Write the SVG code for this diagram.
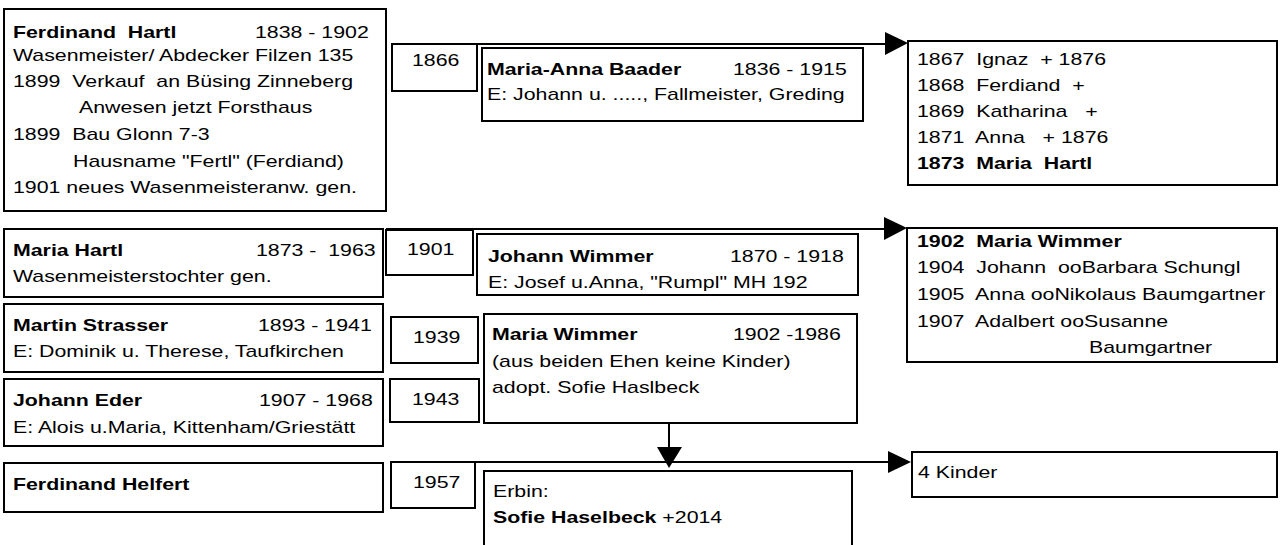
<svg xmlns="http://www.w3.org/2000/svg" width="1281" height="545" viewBox="0 0 1281 545">
<style>
.b{fill:#fff;stroke:#000;stroke-width:2}
.c{fill:none;stroke:#000;stroke-width:2}
.h{fill:#000;stroke:none}
text{font-family:"Liberation Sans",Arial,sans-serif;font-size:17px;fill:#000;white-space:pre}
.bd{font-weight:bold}
</style>
<rect width="1281" height="545" fill="#fff"/>
<g id="connectors">
<path class="c" d="M392 44H890"/><path class="h" d="M908 43L885 32V55Z"/>
<path class="c" d="M386 229H890"/><path class="h" d="M907 228L884 217V240Z"/>
<path class="c" d="M391 462H892"/><path class="h" d="M911 462L888 451V473Z"/>
<path class="c" d="M669 423V450"/><path class="h" d="M669 468L657 447H682Z"/>
</g>
<g id="n1"><rect class="b" x="4" y="9" width="382" height="202"/>
<text class="bd" transform="translate(13 37.5) scale(1.255 1)" xml:space="preserve">Ferdinand  Hartl</text>
<text transform="translate(255 37.5) scale(1.255 1)">1838 - 1902</text>
<text transform="translate(13 61) scale(1.255 1)">Wasenmeister/ Abdecker Filzen 135</text>
<text transform="translate(13 87) scale(1.255 1)" xml:space="preserve">1899  Verkauf  an Büsing Zinneberg</text>
<text transform="translate(79 113) scale(1.255 1)">Anwesen jetzt Forsthaus</text>
<text transform="translate(13 140) scale(1.255 1)" xml:space="preserve">1899  Bau Glonn 7-3</text>
<text transform="translate(73 166.5) scale(1.255 1)">Hausname "Fertl" (Ferdiand)</text>
<text transform="translate(13 193) scale(1.255 1)">1901 neues Wasenmeisteranw. gen.</text>
</g>
<g id="n2"><rect class="b" x="392" y="44" width="85" height="47"/>
<text transform="translate(412 66) scale(1.255 1)">1866</text></g>
<g id="n3"><rect class="b" x="482" y="48" width="381" height="73"/>
<text class="bd" transform="translate(487 75) scale(1.255 1)">Maria-Anna Baader</text>
<text transform="translate(733 75) scale(1.255 1)">1836 - 1915</text>
<text transform="translate(487 100) scale(1.255 1)">E: Johann u. ....., Fallmeister, Greding</text></g>
<g id="n4"><rect class="b" x="908" y="41" width="369" height="144"/>
<text transform="translate(917 65) scale(1.255 1)" xml:space="preserve">1867  Ignaz  + 1876</text>
<text transform="translate(917 91) scale(1.255 1)" xml:space="preserve">1868  Ferdiand  +</text>
<text transform="translate(917 117) scale(1.255 1)" xml:space="preserve">1869  Katharina   +</text>
<text transform="translate(917 143) scale(1.255 1)" xml:space="preserve">1871  Anna   + 1876</text>
<text class="bd" transform="translate(917 168.5) scale(1.255 1)" xml:space="preserve">1873  Maria  Hartl</text></g>
<g id="n5"><rect class="b" x="4" y="229" width="379" height="68"/>
<text class="bd" transform="translate(13 256) scale(1.255 1)">Maria Hartl</text>
<text transform="translate(256 256) scale(1.255 1)" xml:space="preserve">1873 -  1963</text>
<text transform="translate(13 282) scale(1.255 1)">Wasenmeisterstochter gen.</text></g>
<g id="n6"><rect class="b" x="386" y="230" width="87" height="45"/>
<text transform="translate(407 255) scale(1.255 1)">1901</text></g>
<g id="n7"><rect class="b" x="477" y="234" width="381" height="61"/>
<text class="bd" transform="translate(488 261.5) scale(1.255 1)">Johann Wimmer</text>
<text transform="translate(730 261.5) scale(1.255 1)">1870 - 1918</text>
<text transform="translate(488 288) scale(1.255 1)">E: Josef u.Anna, "Rumpl" MH 192</text></g>
<g id="n8"><rect class="b" x="907" y="228" width="370" height="134"/>
<text class="bd" transform="translate(917 246.5) scale(1.255 1)" xml:space="preserve">1902  Maria Wimmer</text>
<text transform="translate(917 273) scale(1.255 1)" xml:space="preserve">1904  Johann  ooBarbara Schungl</text>
<text transform="translate(917 300) scale(1.255 1)" xml:space="preserve">1905  Anna ooNikolaus Baumgartner</text>
<text transform="translate(917 326.5) scale(1.255 1)" xml:space="preserve">1907  Adalbert ooSusanne</text>
<text transform="translate(1089 353) scale(1.255 1)">Baumgartner</text></g>
<g id="n9"><rect class="b" x="4" y="304" width="379" height="68"/>
<text class="bd" transform="translate(13 330.5) scale(1.255 1)">Martin Strasser</text>
<text transform="translate(258 330.5) scale(1.255 1)">1893 - 1941</text>
<text transform="translate(13 357) scale(1.255 1)">E: Dominik u. Therese, Taufkirchen</text></g>
<g id="n10"><rect class="b" x="391" y="317" width="87" height="46"/>
<text transform="translate(413 343) scale(1.255 1)">1939</text></g>
<g id="n11"><rect class="b" x="484" y="314" width="373" height="109"/>
<text class="bd" transform="translate(492 340) scale(1.255 1)">Maria Wimmer</text>
<text transform="translate(733 340) scale(1.255 1)">1902 -1986</text>
<text transform="translate(492 366.5) scale(1.255 1)">(aus beiden Ehen keine Kinder)</text>
<text transform="translate(492 393) scale(1.255 1)">adopt. Sofie Haslbeck</text></g>
<g id="n12"><rect class="b" x="4" y="379" width="379" height="67"/>
<text class="bd" transform="translate(13 406) scale(1.255 1)">Johann Eder</text>
<text transform="translate(259 406) scale(1.255 1)">1907 - 1968</text>
<text transform="translate(13 433) scale(1.255 1)">E: Alois u.Maria, Kittenham/Griestätt</text></g>
<g id="n13"><rect class="b" x="390" y="379" width="89" height="43"/>
<text transform="translate(412 405) scale(1.255 1)">1943</text></g>
<g id="n14"><rect class="b" x="4" y="463" width="379" height="49"/>
<text class="bd" transform="translate(13 490) scale(1.255 1)">Ferdinand Helfert</text></g>
<g id="n15"><rect class="b" x="391" y="462" width="84" height="46"/>
<text transform="translate(413 488) scale(1.255 1)">1957</text></g>
<g id="n16"><rect class="b" x="484" y="471" width="368" height="80"/>
<text transform="translate(493 496.5) scale(1.255 1)">Erbin:</text>
<text transform="translate(493 523) scale(1.255 1)"><tspan class="bd">Sofie Haselbeck</tspan> +2014</text></g>
<g id="n17"><rect class="b" x="912" y="452" width="365" height="45"/>
<text transform="translate(918 478) scale(1.255 1)">4 Kinder</text></g>
</svg>
